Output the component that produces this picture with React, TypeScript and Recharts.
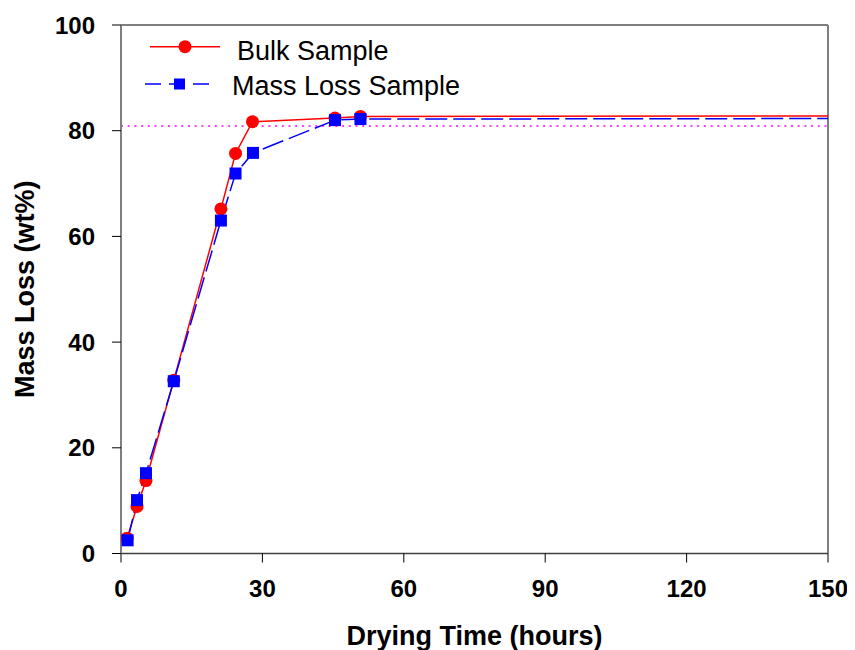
import { LineChart, Line, XAxis, YAxis, ReferenceLine, Legend } from 'recharts';

// values
const bulkTime = [1.3, 3.4, 5.3, 11.2, 21.2, 24.3, 27.9, 45.4, 50.8, 150];
const bulkLoss = [2.9, 8.9, 13.8, 32.8, 65.2, 75.7, 81.7, 82.4, 82.7, 82.8];
const massTime = [1.4, 3.4, 5.3, 11.2, 21.2, 24.3, 28.0, 45.4, 50.8, 150];
const massLoss = [2.5, 10.1, 15.2, 32.6, 63.0, 71.9, 75.8, 82.0, 82.2, 82.3];

const xTicks = [0, 30, 60, 90, 120, 150];
const yTicks = [0, 20, 40, 60, 80, 100];
const threshold = 80.9;

const bulkData = bulkTime.map((t, i) => ({ t, v: bulkLoss[i] }));
const massData = massTime.map((t, i) => ({ t, v: massLoss[i] }));

const FONT = '"Liberation Sans", Arial, sans-serif';

const RedDot = (props: any) => {
  const { cx, cy, index } = props;
  if (index === bulkTime.length - 1) return <g key={`r${index}`} />; // last point runs off the frame, no marker
  return <circle key={`r${index}`} cx={cx} cy={cy} r={6.5} fill="#ff0000" />;
};

const BlueDot = (props: any) => {
  const { cx, cy, index } = props;
  if (index === massTime.length - 1) return <g key={`b${index}`} />;
  return <rect key={`b${index}`} x={cx - 6} y={cy - 6} width={12} height={12} fill="#0000ff" />;
};

const LegendBox = () => (
  <svg width={480} height={110} style={{ display: 'block' }}>
    <line x1={150} x2={220} y1={46.7} y2={46.7} stroke="#ff0000" strokeWidth={1.5} />
    <circle cx={185} cy={46.7} r={6.5} fill="#ff0000" />
    <text x={237} y={60} fontSize={27} fontFamily={FONT} fill="#000">Bulk Sample</text>
    <line x1={145} x2={215} y1={84} y2={84} stroke="#0000ff" strokeWidth={1.5} strokeDasharray="16 8" />
    <rect x={174} y={78.5} width={11} height={11} fill="#0000ff" />
    <text x={232} y={95} fontSize={27} fontFamily={FONT} fill="#000">Mass Loss Sample</text>
  </svg>
);

export default function App() {
  return (
    <div style={{ marginTop: -8, marginLeft: -8, width: 855, height: 650, background: '#fff' }}>
      <LineChart width={855} height={650} margin={{ top: 25, right: 27, left: 0, bottom: 0 }}>
        <XAxis
          dataKey="t"
          type="number"
          domain={[0, 150]}
          ticks={xTicks}
          allowDataOverflow
          height={96.5}
          axisLine={{ stroke: '#404040', strokeWidth: 1.5 }}
          tickLine={{ stroke: '#000' }}
          tickSize={9}
          tickMargin={17}
          tick={{ fill: '#000', fontSize: 24, fontWeight: 'bold', fontFamily: FONT }}
          label={{
            value: 'Drying Time (hours)',
            position: 'insideBottom',
            offset: 5,
            style: { fill: '#000', fontSize: 27, fontWeight: 'bold', fontFamily: FONT },
          }}
        />
        <YAxis
          type="number"
          domain={[0, 100]}
          ticks={yTicks}
          width={121}
          axisLine={{ stroke: '#7f7f7f', strokeWidth: 2 }}
          tickLine={{ stroke: '#000' }}
          tickSize={9}
          tickMargin={17}
          tick={{ fill: '#000', fontSize: 24, fontWeight: 'bold', fontFamily: FONT }}
          label={{
            value: 'Mass Loss (wt%)',
            angle: -90,
            position: 'insideLeft',
            offset: 24,
            style: { fill: '#000', fontSize: 27, fontWeight: 'bold', fontFamily: FONT, textAnchor: 'middle' },
          }}
        />
        <ReferenceLine y={100} stroke="#7f7f7f" strokeWidth={2} />
        <ReferenceLine x={150} stroke="#7f7f7f" strokeWidth={2} />
        <ReferenceLine y={threshold} stroke="#ff00ff" strokeWidth={1.5} strokeDasharray="2 4.7" />
        <Line
          data={bulkData}
          dataKey="v"
          stroke="#ff0000"
          strokeWidth={1.5}
          dot={RedDot}
          isAnimationActive={false}
        />
        <Line
          data={massData}
          dataKey="v"
          stroke="#0000ff"
          strokeWidth={1.5}
          strokeDasharray="22 6"
          dot={BlueDot}
          isAnimationActive={false}
        />
        <Legend
          layout="horizontal"
          verticalAlign="middle"
          align="center"
          wrapperStyle={{ position: 'absolute', left: 0, top: 0, width: 480, height: 110 }}
          content={LegendBox}
        />
      </LineChart>
    </div>
  );
}
